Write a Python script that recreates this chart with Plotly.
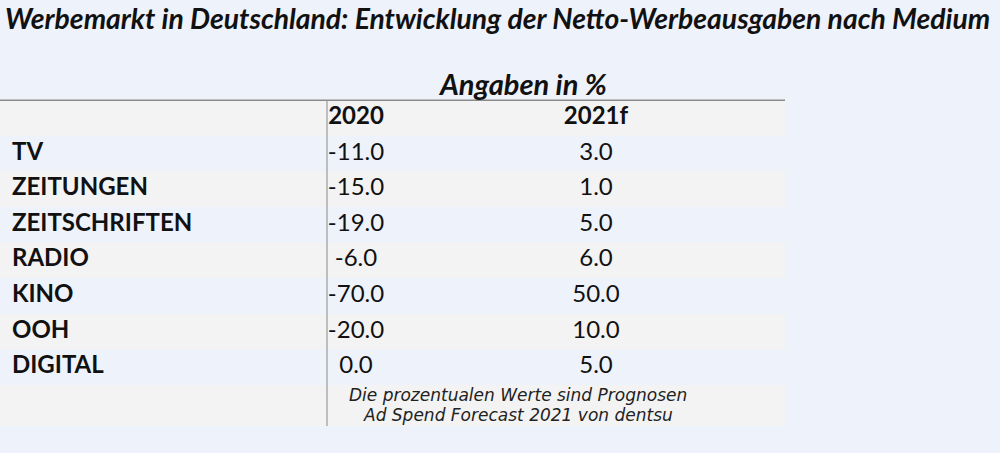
import plotly.graph_objects as go

media = ["TV", "ZEITUNGEN", "ZEITSCHRIFTEN", "RADIO", "KINO", "OOH", "DIGITAL"]
years = ["2020", "2021f"]
change_2020 = [-11.0, -15.0, -19.0, -6.0, -70.0, -20.0, 0.0]
change_2021 = [3.0, 1.0, 5.0, 6.0, 50.0, 10.0, 5.0]

title = "Werbemarkt in Deutschland: Entwicklung der Netto-Werbeausgaben nach Medium"
unit_note = "Angaben in %"
footnotes = ["Die prozentualen Werte sind Prognosen", "Ad Spend Forecast 2021 von dentsu"]

BG = "#eef2fa"
BAND = "#f3f3f3"
FONT = "Lato"

# layout in pixel space: row 0 is the year header, rows 1..7 the media
ROW0 = 118
ROW_H = 35.6
TABLE_W = 785
COL_LABEL = 12
COL_2020 = 356
COL_2021 = 596
DIVIDER_X = 327


def row_y(i):
    return ROW0 + ROW_H * i


rows = range(1, len(media) + 1)
ys = [row_y(i) for i in rows]

fig = go.Figure()

fig.add_trace(go.Scatter(
    x=[COL_LABEL] * len(media), y=ys, text=media,
    mode="text", textposition="middle right",
    textfont=dict(family=FONT, size=24, color="#111111", weight="bold"),
    hoverinfo="skip",
))
fig.add_trace(go.Scatter(
    x=[COL_2020, COL_2021], y=[row_y(0)] * 2, text=years,
    mode="text", textposition="middle center",
    textfont=dict(family=FONT, size=24, color="#111111", weight="bold"),
    hoverinfo="skip",
))
for col_x, vals in [(COL_2020, change_2020), (COL_2021, change_2021)]:
    fig.add_trace(go.Scatter(
        x=[col_x] * len(vals), y=ys, text=[f"{v:.1f}" for v in vals],
        mode="text", textposition="middle center",
        textfont=dict(family=FONT, size=24, color="#111111"),
        hoverinfo="skip",
    ))

# alternating row bands, header and footer included
shapes = []
n_rows = len(media) + 2
for i in range(0, n_rows, 2):
    top = row_y(i) - ROW_H / 2
    h = ROW_H if i < n_rows - 1 else ROW_H * 1.15
    shapes.append(dict(type="rect", xref="x", yref="y", x0=0, x1=TABLE_W,
                       y0=top, y1=top + h, fillcolor=BAND, line_width=0, layer="below"))
top_line = row_y(0) - ROW_H / 2
shapes.append(dict(type="line", xref="x", yref="y", x0=0, x1=TABLE_W,
                   y0=top_line, y1=top_line, line=dict(color="#8a8a8a", width=1.5)))
shapes.append(dict(type="line", xref="x", yref="y", x0=DIVIDER_X, x1=DIVIDER_X,
                   y0=top_line, y1=row_y(n_rows - 1) + ROW_H * 0.65,
                   line=dict(color="#9a9a9a", width=1.2)))

annotations = [
    dict(text=f"<b><i>{title}</i></b>", x=3, y=18, xref="x", yref="y",
         xanchor="left", yanchor="middle", showarrow=False,
         font=dict(family=FONT, size=28.3, color="#111111")),
    dict(text=f"<b><i>{unit_note}</i></b>", x=522, y=83, xref="x", yref="y",
         xanchor="center", yanchor="middle", showarrow=False,
         font=dict(family=FONT, size=29, color="#111111")),
]
for k, line in enumerate(footnotes):
    annotations.append(dict(text=f"<i>{line}</i>", x=518, y=395 + 20 * k,
                            xref="x", yref="y", xanchor="center", yanchor="middle",
                            showarrow=False,
                            font=dict(family="DejaVu Sans", size=17, color="#222222")))

fig.update_layout(
    width=1000, height=453,
    margin=dict(l=0, r=0, t=0, b=0),
    paper_bgcolor=BG, plot_bgcolor=BG,
    showlegend=False,
    xaxis=dict(range=[0, 1000], visible=False, fixedrange=True),
    yaxis=dict(range=[453, 0], visible=False, fixedrange=True),
    shapes=shapes, annotations=annotations,
)

fig.write_html(
    "out.html",
    config={"displayModeBar": False},
    post_script=f"document.body.style.margin='0';document.body.style.background='{BG}';",
)
